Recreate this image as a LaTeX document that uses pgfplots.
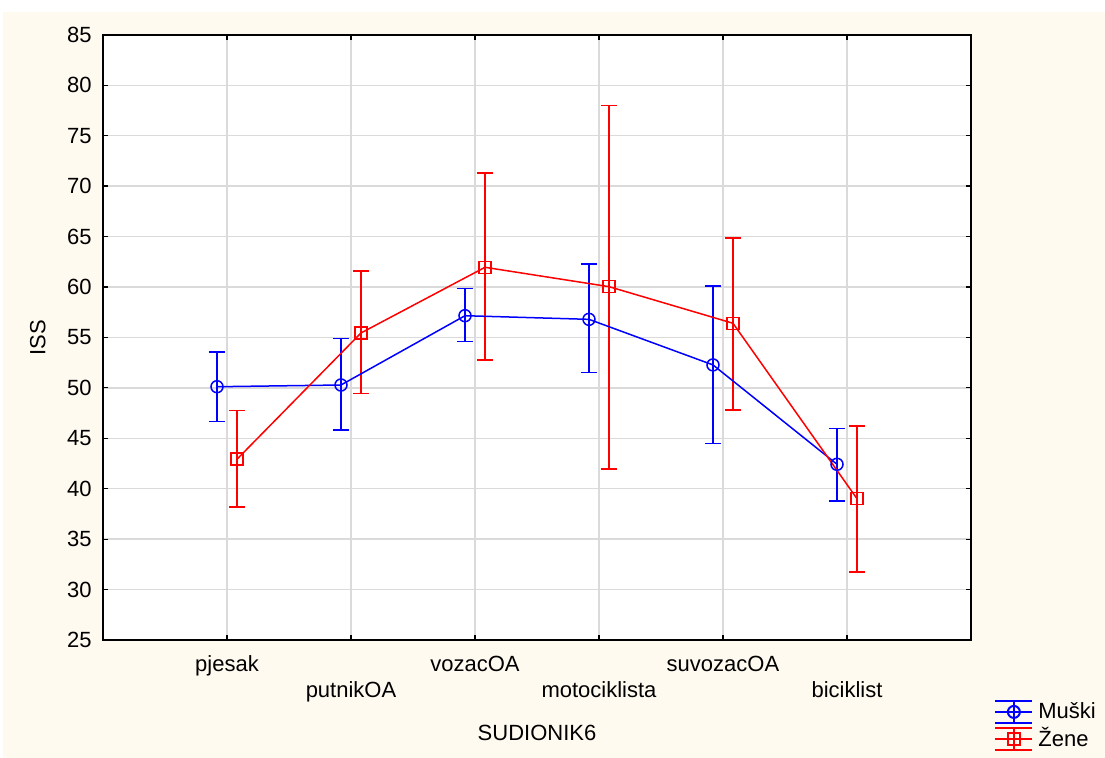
\documentclass[border=0pt]{standalone}
\usepackage{pgfplots}
\pgfplotsset{compat=1.18}
\usepackage{fontspec}
\setmainfont{Liberation Sans}
\definecolor{bgcream}{RGB}{255,250,240}
\definecolor{gridgray}{RGB}{218,218,218}
\begin{document}
\fontsize{11}{13.2}\selectfont
\begin{tikzpicture}
\fill[white] (-51.5pt,-59pt) rectangle (501pt,320pt);
\fill[bgcream] (-50pt,-59pt) rectangle (501pt,314pt);
\begin{axis}[
 at={(0,0)}, anchor=south west, scale only axis,
 width=434pt, height=302.6pt,
 xmin=0, xmax=7, ymin=25, ymax=85,
 ytick={25,30,...,85},
 xtick={1,3,5}, xticklabels={pjesak,vozacOA,suvozacOA},
 extra x ticks={2,4,6}, extra x tick labels={putnikOA,motociklista,biciklist},
 extra x tick style={grid=major, xticklabel style={yshift=-13pt}},
 grid=major, major grid style={gridgray, line width=0.7pt},
 tick align=inside, major tick length=2.5pt, tick style={black, line width=0.6pt},
 axis line style={line width=1pt},
 axis background/.style={fill=white},
 xticklabel style={anchor=base, inner sep=0pt, yshift=-16pt},
 yticklabel style={anchor=east, inner sep=0pt, xshift=-5.5pt},
 /pgf/number format/assume math mode=true,
 ticklabel style={font=\fontsize{11}{13.2}\selectfont},
 label style={font=\fontsize{11}{13.2}\selectfont},
 xlabel={SUDIONIK6}, ylabel={ISS},
 every axis x label/.style={at={(axis description cs:0.5,-0.1669)}, anchor=base},
 every axis y label/.style={at={(axis description cs:-0.075,0.5)}, anchor=center, rotate=90},
 legend style={at={(axis description cs:1.0265,-0.094)}, anchor=north west, draw=none, fill=none,
   inner sep=0pt, row sep=-2pt, font=\fontsize{11}{13.2}\selectfont,
   nodes={inner sep=2.5pt}},
 legend cell align=left,
 unbounded coords=jump,
]
% error bars, Muski
\addplot[blue, line width=0.75pt, mark=none, forget plot] coordinates {
 (0.854839,53.55) (0.983871,53.55) (nan,nan) (0.919355,53.55) (0.919355,46.64) (nan,nan) (0.854839,46.64) (0.983871,46.64) (nan,nan)
 (1.854839,54.87) (1.983871,54.87) (nan,nan) (1.919355,54.87) (1.919355,45.82) (nan,nan) (1.854839,45.82) (1.983871,45.82) (nan,nan)
 (2.854839,59.83) (2.983871,59.83) (nan,nan) (2.919355,59.83) (2.919355,54.57) (nan,nan) (2.854839,54.57) (2.983871,54.57) (nan,nan)
 (3.854839,62.27) (3.983871,62.27) (nan,nan) (3.919355,62.27) (3.919355,51.50) (nan,nan) (3.854839,51.50) (3.983871,51.50) (nan,nan)
 (4.854839,60.10) (4.983871,60.10) (nan,nan) (4.919355,60.10) (4.919355,44.50) (nan,nan) (4.854839,44.50) (4.983871,44.50) (nan,nan)
 (5.854839,45.95) (5.983871,45.95) (nan,nan) (5.919355,45.95) (5.919355,38.79) (nan,nan) (5.854839,38.79) (5.983871,38.79)
};
% error bars, Zene
\addplot[red, line width=0.75pt, mark=none, forget plot] coordinates {
 (1.016129,47.74) (1.145161,47.74) (nan,nan) (1.080645,47.74) (1.080645,38.18) (nan,nan) (1.016129,38.18) (1.145161,38.18) (nan,nan)
 (2.016129,61.60) (2.145161,61.60) (nan,nan) (2.080645,61.60) (2.080645,49.46) (nan,nan) (2.016129,49.46) (2.145161,49.46) (nan,nan)
 (3.016129,71.32) (3.145161,71.32) (nan,nan) (3.080645,71.32) (3.080645,52.75) (nan,nan) (3.016129,52.75) (3.145161,52.75) (nan,nan)
 (4.016129,78.00) (4.145161,78.00) (nan,nan) (4.080645,78.00) (4.080645,41.96) (nan,nan) (4.016129,41.96) (4.145161,41.96) (nan,nan)
 (5.016129,64.85) (5.145161,64.85) (nan,nan) (5.080645,64.85) (5.080645,47.80) (nan,nan) (5.016129,47.80) (5.145161,47.80) (nan,nan)
 (6.016129,46.22) (6.145161,46.22) (nan,nan) (6.080645,46.22) (6.080645,31.75) (nan,nan) (6.016129,31.75) (6.145161,31.75)
};
\addplot[blue, line width=0.75pt, mark=o, mark size=3pt, mark options={solid},
  legend image code/.code={
    \draw[blue, line width=1pt] (0pt,5.5pt)--(18.5pt,5.5pt) (0pt,0pt)--(18.5pt,0pt)
      (0pt,-5.5pt)--(18.5pt,-5.5pt) (9.25pt,-5.5pt)--(9.25pt,5.5pt);
    \draw[blue, line width=1pt] (9.25pt,0pt) circle (3pt);},
  ] coordinates {
 (0.919355,50.11) (1.919355,50.28) (2.919355,57.15) (3.919355,56.79) (4.919355,52.27) (5.919355,42.42)
};
\addlegendentry{Muški}
\addplot[red, line width=0.75pt, mark=square, mark size=3pt, mark options={solid},
  legend image code/.code={
    \draw[red, line width=1pt] (0pt,5.5pt)--(18.5pt,5.5pt) (0pt,0pt)--(18.5pt,0pt)
      (0pt,-5.5pt)--(18.5pt,-5.5pt) (9.25pt,-5.5pt)--(9.25pt,5.5pt);
    \draw[red, line width=1pt] (6.25pt,-3pt) rectangle (12.25pt,3pt);},
  ] coordinates {
 (1.080645,42.92) (2.080645,55.44) (3.080645,61.95) (4.080645,60.03) (5.080645,56.40) (6.080645,39.01)
};
\addlegendentry{Žene}
\end{axis}
\end{tikzpicture}
\end{document}
